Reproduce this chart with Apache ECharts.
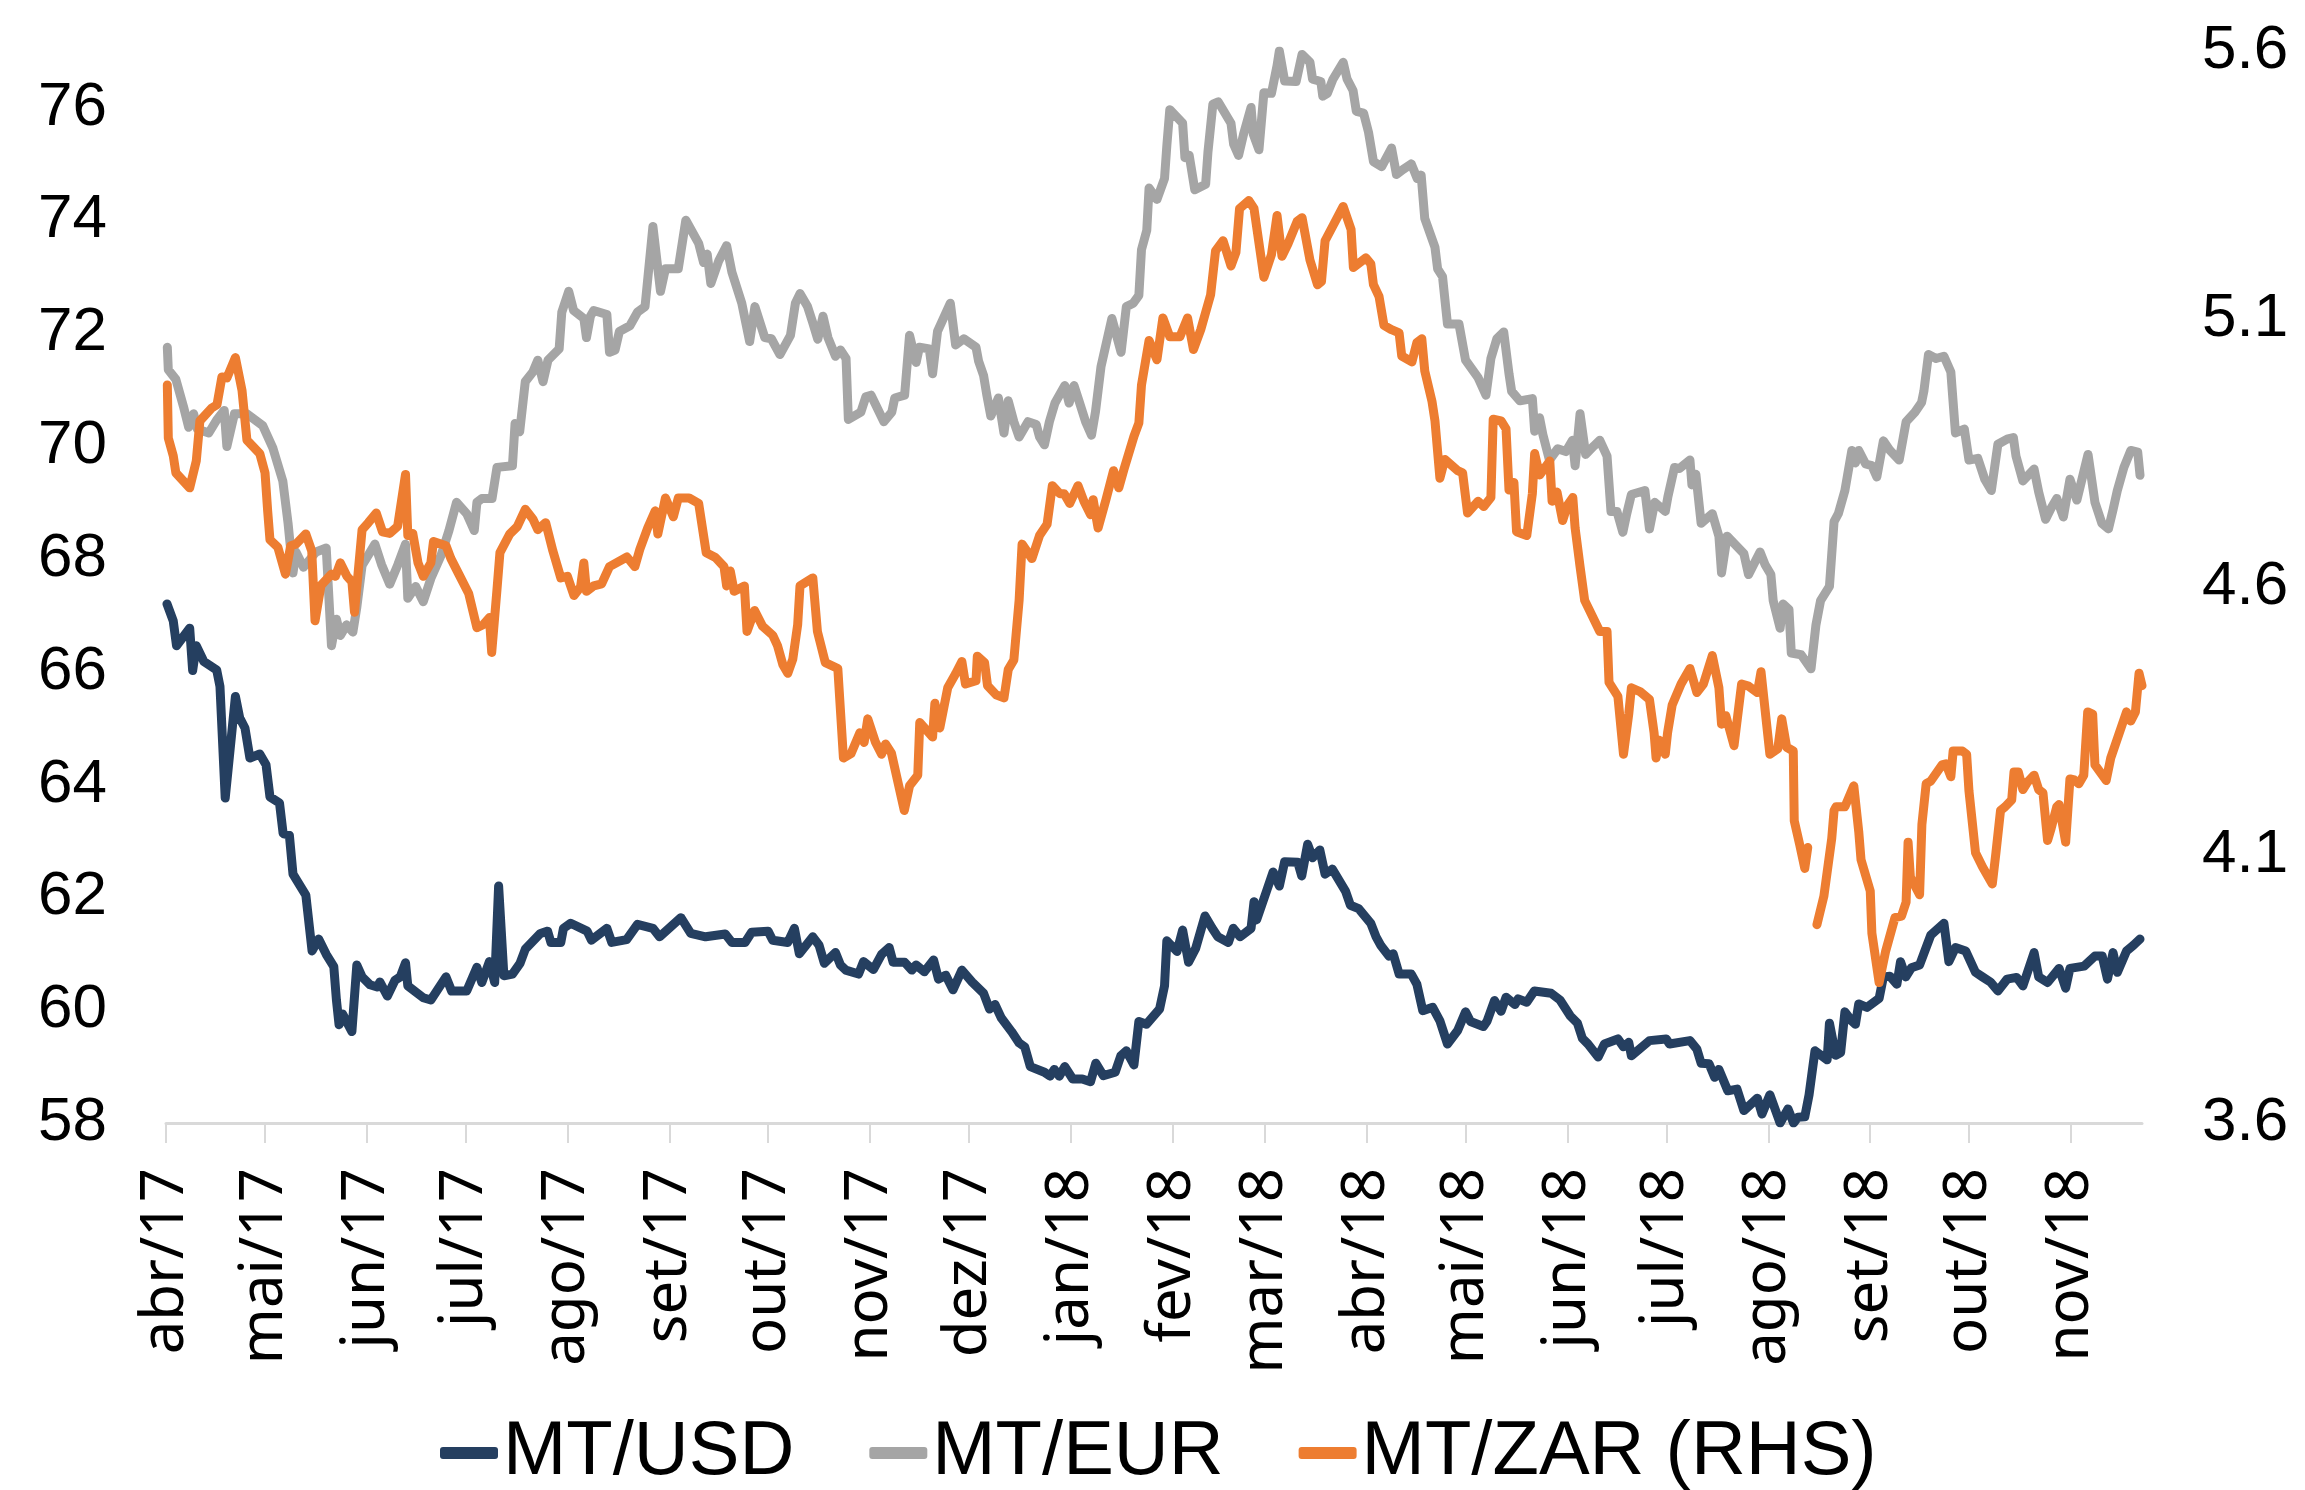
<!DOCTYPE html>
<html>
<head>
<meta charset="utf-8">
<script src="https://cdn.jsdelivr.net/npm/echarts@6/dist/echarts.min.js"></script>
<style>
  html, body { margin: 0; padding: 0; background: #fff; }
  #chart { width: 2305px; height: 1490px; }
</style>
</head>
<body>
<div id="chart"></div>
<script>
// x = days since 1 Apr 2017
const monthDays = [0, 30, 61, 91, 122, 153, 183, 214, 244, 275, 306, 334, 365, 395, 426, 456, 487, 518, 548, 579]
const monthLabels = ['abr/17', 'mai/17', 'jun/17', 'jul/17', 'ago/17', 'set/17', 'out/17', 'nov/17', 'dez/17',
  'jan/18', 'fev/18', 'mar/18', 'abr/18', 'mai/18', 'jun/18', 'jul/18', 'ago/18', 'set/18', 'out/18', 'nov/18']
const leftTicks = [58, 60, 62, 64, 66, 68, 70, 72, 74, 76]
const rightTicks = [3.6, 4.1, 4.6, 5.1, 5.6]

// MT/USD [day, value]
const usd = [[0.3,67.2],[2.2,66.9],[3.2,66.46],[7.2,66.77],[8.1,66.02],[9.2,66.46],[11.5,66.18],[15.4,66.03],[16.4,65.74],
  [18,63.76],[21.1,65.56],[22.4,65.18],[24,65.0],[25.5,64.47],[28.5,64.54],[30.4,64.35],[31.6,63.78],[34.5,63.67],[35.6,63.13],
  [37.5,63.1],[38.6,62.41],[42.5,62.04],[44.4,61.05],[46.4,61.26],[48.7,60.99],[51,60.77],[51.8,60.18],[52.6,59.74],[53.7,59.93],
  [56.5,59.62],[58,60.8],[59.6,60.59],[62,60.45],[64.2,60.41],[65,60.5],[67.3,60.25],[69.6,60.53],[71.2,60.59],[72.8,60.84],
  [73.5,60.43],[78.2,60.22],[80.5,60.18],[85.1,60.59],[86.8,60.34],[91.4,60.34],[94.5,60.76],[96,60.49],[98.3,60.86],[99.9,60.49],
  [101.1,62.2],[102.7,60.61],[105.3,60.64],[107.6,60.83],[109.2,61.08],[113.8,61.36],[116,61.4],[117,61.2],[120,61.2],[120.8,61.45],
  [123,61.54],[128,61.4],[129.3,61.24],[134,61.45],[135.5,61.2],[140,61.25],[143.3,61.52],[148,61.45],[150,61.3],[156.5,61.64],
  [159.5,61.36],[164,61.3],[170,61.35],[172,61.2],[176,61.2],[178,61.38],[183,61.4],[184.4,61.24],[189,61.2],[191,61.45],
  [192.5,61.0],[196.6,61.3],[198.5,61.15],[200.1,60.83],[203.5,61.02],[205,60.8],[206.6,60.71],[210.5,60.64],[212,60.86],
  [215,60.72],[217.5,60.99],[219.8,61.11],[221,60.85],[224.5,60.85],[226.7,60.71],[228,60.8],[230.5,60.68],[233.3,60.89],
  [234.8,60.55],[237,60.62],[239.2,60.36],[241.9,60.71],[245,60.5],[248.5,60.3],[250.3,60.02],[252,60.1],[253.9,59.86],
  [257,59.62],[259.3,59.42],[261,59.35],[262.7,59.0],[267,58.9],[268.7,58.83],[270,58.95],[271.5,58.83],[273.2,59.0],
  [275.6,58.78],[278.5,58.78],[281,58.73],[282.6,59.06],[284.9,58.84],[288.5,58.9],[290.2,59.19],[291.9,59.28],[294.2,59.03],
  [295.7,59.8],[298,59.75],[302,60.02],[303.5,60.43],[304.2,61.23],[307.3,61.04],[309,61.42],[310.8,60.85],[313,61.1],
  [315.8,61.67],[318,61.45],[319.7,61.3],[322.9,61.2],[324.4,61.45],[326.5,61.3],[329.8,61.45],[330.7,61.92],[331.5,61.6],
  [334.5,62.11],[336.5,62.45],[338.4,62.2],[340,62.63],[344,62.62],[345.2,62.38],[347,62.94],[348.5,62.7],[350.7,62.84],
  [352.3,62.41],[354.5,62.5],[358.5,62.11],[360,61.86],[362.5,61.8],[366.2,61.54],[367.8,61.3],[369.3,61.14],[371.7,60.96],
  [373,61.0],[374.8,60.64],[378.5,60.64],[380.2,60.46],[382,59.99],[385,60.05],[387.2,59.81],[389.5,59.4],[392.6,59.64],
  [395,59.97],[396.5,59.8],[400.4,59.71],[401.5,59.8],[403.8,60.17],[405.8,59.98],[407.3,60.23],[410,60.1],[411,60.2],
  [413.6,60.14],[415.9,60.34],[421,60.3],[423.7,60.18],[426.8,59.9],[429,59.77],[430.5,59.5],[432.2,59.4],[435.3,59.17],
  [437.2,59.4],[441.3,59.49],[443,59.35],[444.6,59.43],[445.4,59.19],[450.9,59.46],[456,59.49],[457,59.4],[463.2,59.46],
  [465.3,59.31],[466.6,59.06],[469,59.05],[470.7,58.81],[472,58.95],[474.7,58.57],[477.5,58.6],[479.6,58.22],[483.7,58.44],
  [485.1,58.16],[487.5,58.5],[490.6,58.0],[493,58.25],[494.7,58.0],[496,58.1],[498.1,58.11],[499.4,58.5],[501.2,59.28],
  [504.9,59.12],[505.6,59.77],[507.5,59.2],[509,59.25],[510.3,59.97],[512.5,59.8],[513.5,59.75],[514.5,60.11],[517,60.05],
  [520.7,60.21],[522,60.59],[524,60.6],[526.1,60.46],[527.2,60.86],[528.8,60.59],[530.5,60.75],[533,60.8],[534.6,61.05],
  [536.4,61.33],[540.4,61.54],[541.9,60.86],[543.9,61.11],[547,61.05],[550,60.67],[552.1,60.59],[554.5,60.5],[556.8,60.34],
  [559.6,60.55],[562.5,60.58],[564.4,60.43],[567.8,61.02],[569.2,60.59],[571.9,60.49],[575.4,60.74],[577.4,60.39],[578.7,60.74],
  [583,60.78],[586.3,60.96],[588.5,60.96],[590.1,60.55],[591.8,61.02],[593.1,60.67],[595.9,61.05],[598,61.15],[600,61.26]]

// MT/EUR [day, value]
const eur = [[0.4,71.75],[0.7,71.35],[3,71.18],[5.3,70.7],[6.9,70.33],[8.4,70.57],[9.5,70.3],[13,70.23],[15.4,70.46],
  [17.7,70.63],[18.5,69.99],[20.8,70.57],[24.6,70.57],[29.4,70.36],[32.5,69.96],[35.5,69.38],[37.1,68.63],[38.6,67.75],
  [39.5,68.12],[41.8,67.85],[45.6,68.12],[48.7,68.19],[50.3,66.46],[51.8,66.93],[53,66.64],[54.9,66.83],[56.8,66.7],[58,67.14],
  [59.6,67.88],[63.5,68.26],[65.5,67.9],[68,67.55],[70.5,67.9],[72.8,68.26],[73.5,67.3],[75.9,67.51],[78.2,67.24],[80.5,67.65],
  [83.6,68.06],[86,68.5],[88.3,69.0],[91.4,68.8],[93.7,68.5],[94.5,69.0],[96,69.07],[99.1,69.07],[100.6,69.62],[105.3,69.65],
  [106.1,70.4],[107.5,70.25],[109.2,71.14],[111.5,71.31],[113,71.52],[114.6,71.14],[116.1,71.52],[119.5,71.72],[120.3,72.37],
  [122.4,72.74],[123.9,72.4],[127,72.26],[127.8,71.92],[129,72.3],[130,72.4],[134,72.33],[134.8,71.66],[136.5,71.7],
  [137.8,72.03],[141,72.13],[143.3,72.37],[145.6,72.47],[148,73.89],[150.3,72.74],[151.8,73.14],[155.7,73.14],[158,74.0],
  [161.9,73.59],[163.4,73.25],[164.5,73.4],[165.6,72.88],[168,73.28],[170.4,73.55],[172,73.08],[175,72.53],[177.4,71.85],
  [179,72.47],[182,71.92],[184,71.9],[186.6,71.62],[189.8,71.96],[191.3,72.53],[192.7,72.7],[195,72.47],[196.5,72.2],
  [198.1,71.89],[199.7,72.3],[201.2,71.92],[203.5,71.59],[205,71.7],[206.7,71.55],[207.4,70.47],[211.2,70.6],[212.7,70.87],
  [214.3,70.9],[218.2,70.43],[220.6,70.6],[221.5,70.85],[224.5,70.9],[226,71.96],[228,71.48],[229,71.75],[232,71.72],
  [233,71.28],[234.5,72.03],[238.4,72.53],[240,71.79],[242.5,71.9],[246.2,71.75],[247,71.5],[248.5,71.25],[249.5,70.9],
  [250.7,70.53],[253,70.85],[254.7,70.23],[256,70.8],[257.7,70.43],[259.3,70.16],[262,70.43],[264.5,70.38],[265.5,70.16],
  [267,70.02],[268.5,70.43],[270.2,70.76],[273.2,71.07],[274.5,70.76],[276,71.07],[277.5,70.8],[279.5,70.43],[281.3,70.19],
  [282.5,70.6],[284.2,71.41],[287.5,72.26],[290.3,71.66],[291.9,72.47],[294,72.53],[295.7,72.67],[296.5,73.48],[298.1,73.82],
  [298.8,74.57],[301.2,74.37],[303.5,74.74],[304.2,75.32],[305.1,75.96],[309,75.72],[309.7,75.11],[311,75.15],[312.7,74.54],
  [316,74.64],[316.7,75.21],[318.2,76.06],[319.8,76.1],[323.7,75.72],[324.5,75.35],[326,75.15],[327.5,75.52],[329.8,76.0],
  [330.5,75.52],[332.2,75.25],[333.7,76.26],[336,76.25],[337.7,76.74],[338.4,77.0],[340,76.47],[343.5,76.46],[345.3,76.94],
  [347.7,76.8],[348.5,76.5],[351,76.46],[351.6,76.2],[353,76.25],[354.7,76.5],[357.8,76.8],[359,76.5],[360.8,76.3],
  [361.8,75.93],[364,75.9],[365.5,75.56],[367,75.04],[369.5,74.95],[372.5,75.28],[374,74.81],[376,74.9],[378.5,75.0],
  [380.3,74.74],[381.5,74.8],[382.6,74.03],[385.7,73.52],[386.5,73.14],[388,73.0],[389.5,72.16],[393,72.16],[395,71.52],
  [398.8,71.21],[401.2,70.9],[402.7,71.55],[404.5,71.9],[406.6,72.02],[408.2,71.28],[409,70.97],[411.5,70.8],[415.3,70.84],
  [416,70.26],[417.5,70.5],[418.5,70.2],[420.5,69.75],[423,69.95],[425.5,69.9],[427.5,70.1],[428.3,69.65],[429.8,70.57],
  [431.5,69.85],[434,70.0],[435.8,70.1],[438,69.82],[439.2,68.84],[441,68.84],[442.8,68.47],[444,68.8],[445.4,69.14],
  [449.5,69.21],[450.9,68.53],[452.5,69.0],[455.7,68.84],[456.5,69.1],[458.5,69.62],[460,69.6],[463.2,69.75],[463.8,69.31],
  [465,69.5],[466.6,68.63],[470,68.8],[472,68.4],[472.8,67.75],[474.5,68.4],[479.6,68.09],[481,67.72],[484.5,68.12],
  [486,67.9],[487.8,67.72],[488.5,67.26],[490.6,66.77],[491.5,67.2],[493.3,67.1],[494,66.33],[497,66.3],[500,66.05],
  [501.5,66.83],[502.9,67.26],[505.6,67.51],[507,68.66],[508.3,68.8],[510.3,69.21],[512.4,69.92],[513.5,69.7],[514.5,69.92],
  [516.6,69.68],[518.5,69.65],[520,69.45],[522,70.09],[524,69.92],[526.8,69.75],[528.9,70.43],[531.6,70.6],[533.6,70.77],
  [534.3,70.97],[535.7,71.62],[538,71.55],[540.4,71.59],[542.5,71.31],[543.9,70.23],[546.6,70.3],[548,69.75],[550.7,69.78],
  [552.8,69.41],[554.8,69.21],[556.8,70.03],[559.6,70.12],[561.5,70.15],[562.3,69.82],[564.4,69.38],[567.8,69.59],
  [569.2,69.18],[571.3,68.7],[573,68.9],[574.7,69.07],[576.7,68.74],[578.7,69.41],[580.8,69.04],[584.2,69.85],[586.3,69.0],
  [588.4,68.63],[590.4,68.53],[591.8,68.87],[593.1,69.21],[595.1,69.62],[597.2,69.92],[599.3,69.89],[600,69.48]]

// MT/ZAR (RHS) [day, value], '-' = no data
const zar = [[0.4,4.977],[0.7,4.878],[2.2,4.845],[3,4.813],[7.2,4.785],[9.2,4.835],[10.3,4.91],[13.9,4.934],[15.5,4.94],
  [17,4.992],[18.5,4.99],[21.1,5.028],[23.1,4.967],[24.6,4.874],[28.5,4.849],[30.1,4.813],[30.9,4.742],[31.6,4.688],[34,4.674],
  [36.3,4.624],[37.9,4.677],[39.5,4.68],[42.5,4.699],[44.3,4.667],[45.3,4.537],[47.1,4.603],[50.3,4.624],[51.5,4.62],
  [53,4.645],[55,4.62],[56.5,4.61],[57.3,4.553],[59.6,4.707],[61.5,4.72],[63.9,4.738],[65.8,4.703],[68,4.7],[70.4,4.713],
  [72.8,4.81],[73.5,4.696],[75,4.7],[76.6,4.645],[78.2,4.62],[80.5,4.645],[81.3,4.685],[85.1,4.677],[86.6,4.653],[89,4.624],
  [92,4.588],[94.5,4.524],[96.5,4.53],[98.3,4.543],[99,4.478],[100.6,4.595],[101.5,4.664],[104.5,4.699],[106.8,4.713],
  [109.2,4.745],[111.5,4.727],[113,4.707],[115.4,4.72],[117.6,4.667],[120,4.617],[122,4.62],[124,4.584],[126,4.6],
  [127,4.645],[127.8,4.592],[130,4.602],[132.4,4.606],[134.8,4.638],[140.1,4.656],[142.5,4.638],[144,4.67],[146.4,4.71],
  [148.7,4.742],[149.5,4.699],[151.8,4.766],[154.2,4.731],[155.7,4.766],[159,4.766],[161.9,4.756],[164.2,4.664],[167,4.655],
  [169.6,4.638],[170.4,4.602],[171.5,4.63],[172.7,4.592],[175.8,4.602],[176.6,4.517],[178.9,4.556],[181.3,4.527],[184.4,4.51],
  [185.9,4.49],[187.5,4.455],[189,4.439],[190.5,4.465],[192,4.53],[192.7,4.602],[196.6,4.617],[198,4.517],[200.4,4.459],
  [204.2,4.448],[205.9,4.281],[208.2,4.289],[210.9,4.328],[212.2,4.31],[213.3,4.354],[215.6,4.311],[217.5,4.288],
  [218.7,4.307],[220.5,4.29],[224.4,4.183],[226,4.229],[228.5,4.249],[229.1,4.347],[233,4.32],[233.7,4.383],[235.2,4.337],
  [237.6,4.412],[240,4.438],[241.9,4.461],[243,4.419],[246.2,4.425],[246.6,4.471],[248.8,4.459],[249.7,4.416],[252.3,4.399],
  [254.7,4.393],[256,4.446],[257.7,4.464],[259.3,4.575],[260.2,4.68],[263.2,4.653],[265.5,4.696],[267.8,4.717],[269.4,4.789],
  [271.7,4.774],[273,4.774],[274.7,4.756],[277.2,4.789],[279,4.76],[281,4.735],[281.8,4.763],[283.3,4.71],[285.7,4.763],
  [288,4.817],[289.6,4.785],[291.2,4.82],[294.2,4.881],[295.7,4.906],[296.5,4.977],[298.8,5.06],[301.2,5.024],[303,5.102],
  [305.1,5.067],[308.2,5.067],[310.5,5.102],[312.3,5.043],[314.5,5.08],[317.5,5.145],[319,5.227],[321.3,5.246],[323.7,5.199],
  [325.2,5.224],[326.3,5.306],[329.1,5.321],[330.7,5.306],[333.7,5.178],[336,5.22],[337.7,5.293],[339.2,5.217],[341,5.24],
  [343.8,5.282],[345.3,5.289],[347.7,5.21],[350,5.164],[351.2,5.17],[352.3,5.246],[354.7,5.274],[357.8,5.31],[360.2,5.267],
  [360.9,5.196],[364.7,5.214],[366.2,5.203],[367,5.164],[368.7,5.142],[370.2,5.088],[372.5,5.08],[374.8,5.074],[375.6,5.031],
  [378.7,5.02],[380.2,5.056],[381.7,5.063],[382.6,5.003],[384.8,4.946],[385.7,4.91],[387.2,4.803],[388.7,4.838],[392.6,4.817],
  [394.1,4.813],[395.6,4.738],[398.8,4.76],[400.5,4.75],[402.7,4.767],[403.4,4.913],[405.8,4.91],[407.3,4.895],[408.2,4.781],
  [409.7,4.795],[410.5,4.703],[413.6,4.696],[415.3,4.774],[416,4.849],[417.5,4.809],[420.6,4.835],[421.3,4.76],[422.8,4.777],
  [424.5,4.724],[426,4.753],[427.6,4.767],[428.3,4.71],[429.8,4.638],[431.2,4.575],[435.8,4.517],[438,4.517],[438.6,4.422],
  [441.3,4.396],[443,4.288],[444.6,4.363],[445.4,4.412],[448,4.405],[450.9,4.39],[452.3,4.328],[452.9,4.281],[453.9,4.314],
  [455.7,4.288],[456.4,4.328],[457.8,4.38],[460.5,4.419],[463.2,4.448],[465.3,4.403],[467.3,4.419],[470,4.472],[472,4.412],
  [472.8,4.344],[474.1,4.36],[476.6,4.304],[478.9,4.419],[481,4.415],[483.7,4.403],[484.8,4.442],[486.4,4.35],[487.5,4.288],
  [489.9,4.298],[491.1,4.354],[492.6,4.301],[494.6,4.294],[494.9,4.164],[496.6,4.118],[498.1,4.075],[499,4.114],[500.5,'-'],
  [501.8,3.97],[503.9,4.023],[506.3,4.131],[507,4.183],[507.6,4.19],[510.3,4.19],[513,4.229],[514.5,4.144],[515.2,4.091],
  [518,4.033],[518.5,3.954],[520.7,3.862],[522.7,3.921],[525.5,3.983],[527.5,3.986],[528.9,4.012],[529.5,4.124],[530.2,4.059],
  [533,4.026],[533.7,4.157],[535,4.233],[536.4,4.238],[539.8,4.268],[541,4.27],[542.5,4.246],[543.2,4.294],[546,4.294],
  [547.3,4.288],[548,4.22],[550,4.104],[552.1,4.078],[555.1,4.046],[556.2,4.104],[557.6,4.183],[559,4.19],[561,4.203],
  [561.7,4.255],[563,4.255],[564.4,4.222],[565.8,4.236],[567.8,4.249],[569.2,4.222],[570.5,4.216],[571.9,4.127],[573,4.15],
  [574.7,4.19],[575.4,4.194],[577.4,4.124],[578.7,4.242],[580,4.24],[581.4,4.233],[582.9,4.249],[584.1,4.367],[585.6,4.363],
  [586.3,4.268],[589.7,4.239],[591.1,4.281],[595.9,4.367],[597.2,4.35],[598.6,4.367],[599.7,4.439],[600.6,4.416]]

const labelFont = 'Liberation Sans'
const lineSeries = (name, data, color, yAxisIndex) => ({
  name,
  type: 'line',
  data,
  yAxisIndex,
  showSymbol: false,
  symbol: 'none',
  connectNulls: false,
  animation: false,
  lineStyle: { color, width: 9, join: 'round', cap: 'round' },
  itemStyle: { color }
})

const chart = echarts.init(document.getElementById('chart'), null, { renderer: 'canvas' })
chart.setOption({
  animation: false,
  backgroundColor: '#fff',
  grid: { left: 166, right: 163, top: 51, bottom: 367, containLabel: false, outerBoundsMode: 'none' },
  legend: {
    left: 435,
    top: 1405,
    itemWidth: 58,
    itemHeight: 12,
    itemGap: 75,
    icon: 'roundRect',
    textStyle: { fontFamily: labelFont, fontSize: 76, color: '#000', lineHeight: 86 },
    data: ['MT/USD', 'MT/EUR', 'MT/ZAR (RHS)']
  },
  xAxis: {
    type: 'value',
    min: 0,
    max: 600.6,
    splitLine: { show: false },
    axisLine: { lineStyle: { color: '#d9d9d9', width: 3 } },
    axisTick: { show: true, length: 20, customValues: monthDays, lineStyle: { color: '#d9d9d9', width: 2 } },
    axisLabel: {
      rotate: 90,
      margin: 45,
      customValues: monthDays,
      fontFamily: 'Noto Sans',
      fontSize: 60,
      color: '#000',
      formatter: v => monthLabels[monthDays.indexOf(v)] || ''
    }
  },
  yAxis: [
    {
      type: 'value',
      min: 58,
      max: 77,
      position: 'left',
      splitLine: { show: false },
      axisLine: { show: false },
      axisTick: { show: false },
      axisLabel: { customValues: leftTicks, margin: 59, fontFamily: labelFont, fontSize: 62, color: '#000' }
    },
    {
      type: 'value',
      min: 3.6,
      max: 5.6,
      position: 'right',
      splitLine: { show: false },
      axisLine: { show: false },
      axisTick: { show: false },
      axisLabel: {
        customValues: rightTicks,
        margin: 60,
        fontFamily: labelFont,
        fontSize: 62,
        color: '#000',
        formatter: v => v.toFixed(1)
      }
    }
  ],
  series: [
    lineSeries('MT/USD', usd, '#253f60', 0),
    lineSeries('MT/EUR', eur, '#a5a5a5', 0),
    lineSeries('MT/ZAR (RHS)', zar, '#ed7d31', 1)
  ]
})
</script>
</body>
</html>
